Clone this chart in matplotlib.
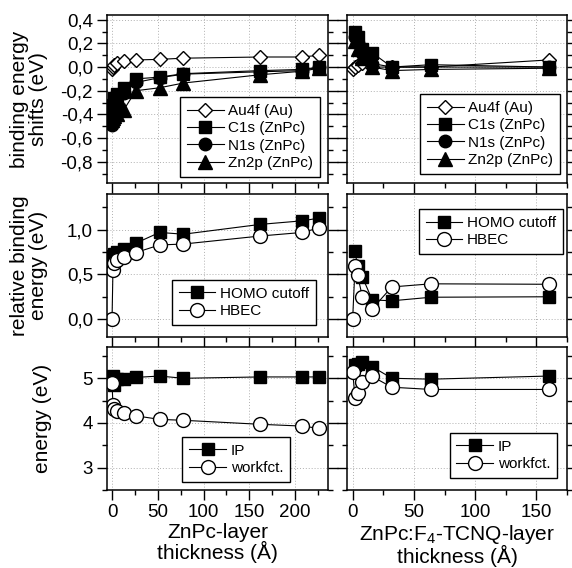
import matplotlib
matplotlib.use("Agg")
import matplotlib.pyplot as plt
from matplotlib.ticker import MultipleLocator, FuncFormatter

plt.rcParams['font.family'] = ['Liberation Sans', 'DejaVu Sans']
plt.rcParams['mathtext.default'] = 'regular'

# ---------------- data ----------------
# left column: ZnPc-layer thickness (Å)
x_left = [0, 1, 2, 5, 13, 26, 52, 78, 162, 208, 226]
au4f_left = [-0.02, 0.0, 0.02, 0.035, 0.055, 0.06, 0.065, 0.075, 0.085, 0.085, 0.10]
c1s_left = [-0.42, -0.32, -0.26, -0.23, -0.18, -0.10, -0.085, -0.056, -0.03, -0.02, 0.0]
n1s_left = [-0.49, -0.44, -0.36, -0.30, -0.22, -0.13, -0.09, -0.06, -0.04, -0.03, 0.0]
zn2p_left = [-0.45, -0.43, -0.41, -0.40, -0.36, -0.20, -0.175, -0.135, -0.065, -0.035, -0.01]

x_homo_left = [1, 2, 5, 13, 26, 52, 78, 162, 208, 226]
homo_left = [0.71, 0.73, 0.75, 0.78, 0.85, 0.97, 0.95, 1.06, 1.10, 1.13]
hbec_left = [0.0, 0.55, 0.63, 0.66, 0.69, 0.745, 0.83, 0.84, 0.93, 0.97, 1.02]

ip_left = [5.05, 4.85, 4.98, 4.98, 5.02, 5.05, 5.0, 5.03, 5.03, 5.03]
wf_left = [4.9, 4.4, 4.32, 4.26, 4.22, 4.16, 4.08, 4.06, 3.97, 3.93, 3.88]

# right column: ZnPc:F4-TCNQ-layer thickness (Å)
x_right = [0, 2, 4, 8, 16, 32, 64, 160]
x_right_mol = [2, 4, 8, 16, 32, 64, 160]
au4f_right = [-0.02, 0.0, 0.02, 0.035, 0.0, 0.0, 0.0, 0.06]
c1s_right = [0.30, 0.25, 0.15, 0.12, 0.0, 0.02, 0.0]
n1s_right = [0.25, 0.20, 0.12, 0.03, 0.0, 0.0, 0.0]
zn2p_right = [0.22, 0.15, 0.08, 0.0, -0.03, -0.02, -0.01]

homo_right = [0.76, 0.59, 0.47, 0.215, 0.205, 0.245, 0.25]
hbec_right = [0.0, 0.60, 0.49, 0.25, 0.115, 0.36, 0.395, 0.39]

ip_right = [5.3, 5.32, 5.37, 5.26, 5.0, 4.98, 5.05]
wf_right = [5.15, 4.56, 4.68, 4.92, 5.04, 4.8, 4.75, 4.75]

xticks_left = [0, 50, 100, 150, 200]
xticks_right = [0, 50, 100, 150]

# ---------------- figure ----------------
fig = plt.figure(figsize=(5.72, 5.68), dpi=100)

W, H = 572.0, 568.0
def rect(x0, x1, y0, y1):
    return [x0 / W, 1 - y1 / H, (x1 - x0) / W, (y1 - y0) / H]

cols = [(107, 328), (347, 567)]
rows = [(15, 183), (194, 337), (347, 490)]

axes = [[fig.add_axes(rect(cx[0], cx[1], ry[0], ry[1])) for cx in cols] for ry in rows]

comma = FuncFormatter(lambda v, p: ("%.1f" % v).replace('.', ',').replace('\u2212', '-'))
intfmt = FuncFormatter(lambda v, p: "%d" % round(v))

lw = 0.8
ms = 9
common = dict(color='black', lw=lw, markeredgecolor='black', markeredgewidth=1.0)

def style(ax, xlim, xt, ylim, ymaj, ymin, yfmt, showy, showx):
    ax.set_xlim(*xlim)
    ax.set_ylim(*ylim)
    ax.xaxis.set_major_locator(MultipleLocator(50))
    ax.xaxis.set_minor_locator(MultipleLocator(25))
    ax.yaxis.set_major_locator(MultipleLocator(ymaj))
    ax.yaxis.set_minor_locator(MultipleLocator(ymin))
    ax.yaxis.set_major_formatter(yfmt)
    ax.grid(True, which='major', color='#b0b0b0', ls=(0, (1, 2)), lw=0.7)
    ax.set_axisbelow(True)
    ax.tick_params(which='both', direction='out', top=False, right=True,
                   left=True, bottom=True, labelsize=13.5, width=1.0)
    ax.tick_params(which='major', length=7, pad=3)
    ax.tick_params(which='minor', length=3.5)
    ax.tick_params(labelleft=showy, labelbottom=showx)
    for s in ax.spines.values():
        s.set_linewidth(1.1)

xl_left = (-5.5, 236)
xl_right = (-4.6, 175)

# ---- top row ----
for ax, xs, xm, au, c1, n1, zn, show in [
        (axes[0][0], x_left, x_left, au4f_left, c1s_left, n1s_left, zn2p_left, True),
        (axes[0][1], x_right, x_right_mol, au4f_right, c1s_right, n1s_right, zn2p_right, False)]:
    ax.plot(xs, au, marker='D', ms=7.5, markerfacecolor='white', label='Au4f (Au)', **common)
    ax.plot(xm, c1, marker='s', ms=ms, markerfacecolor='black', label='C1s (ZnPc)', **common)
    ax.plot(xm, n1, marker='o', ms=ms, markerfacecolor='black', label='N1s (ZnPc)', **common)
    ax.plot(xm, zn, marker='^', ms=ms + 1, markerfacecolor='black', label='Zn2p (ZnPc)', **common)

style(axes[0][0], xl_left, xticks_left, (-0.98, 0.44), 0.2, 0.1, comma, True, False)
style(axes[0][1], xl_right, xticks_right, (-0.98, 0.44), 0.2, 0.1, comma, False, False)

# ---- middle row ----
for ax, xs, xm, hm, hb in [
        (axes[1][0], x_left, x_homo_left, homo_left, hbec_left),
        (axes[1][1], x_right, x_right_mol, homo_right, hbec_right)]:
    ax.plot(xm, hm, marker='s', ms=ms, markerfacecolor='black', label='HOMO cutoff', **common)
    ax.plot(xs, hb, marker='o', ms=ms + 1, markerfacecolor='white', label='HBEC', **common)

style(axes[1][0], xl_left, xticks_left, (-0.2, 1.4), 0.5, 0.25, comma, True, False)
style(axes[1][1], xl_right, xticks_right, (-0.2, 1.4), 0.5, 0.25, comma, False, False)

# ---- bottom row ----
for ax, xs, xm, ip, wf in [
        (axes[2][0], x_left, x_homo_left, ip_left, wf_left),
        (axes[2][1], x_right, x_right_mol, ip_right, wf_right)]:
    ax.plot(xm, ip, marker='s', ms=ms, markerfacecolor='black', label='IP', **common)
    ax.plot(xs, wf, marker='o', ms=ms + 1, markerfacecolor='white', label='workfct.', **common)

style(axes[2][0], xl_left, xticks_left, (2.5, 5.7), 1, 0.5, intfmt, True, True)
style(axes[2][1], xl_right, xticks_right, (2.5, 5.7), 1, 0.5, intfmt, False, True)

# ---- legends ----
leg_kw = dict(fontsize=11, frameon=True, fancybox=False, edgecolor='black',
              borderaxespad=0, handlelength=2.4, handletextpad=0.3,
              labelspacing=0.22, borderpad=0.45)
def legend(ax, loc, anchor):
    lg = ax.legend(loc=loc, bbox_to_anchor=anchor, **leg_kw)
    lg.get_frame().set_linewidth(1.0)
    lg.get_frame().set_alpha(1)

legend(axes[0][0], 'lower right', (0.964, 0.036))
legend(axes[0][1], 'lower right', (0.968, 0.054))
legend(axes[1][0], 'lower right', (0.946, 0.084))
legend(axes[1][1], 'upper right', (0.982, 0.895))
legend(axes[2][0], 'lower right', (0.828, 0.056))
legend(axes[2][1], 'lower right', (0.955, 0.084))

# ---- axis labels ----
ylabels = ["binding energy\nshifts (eV)", "relative binding\nenergy (eV)", "energy (eV)"]
ypos = [-0.355, -0.355, -0.29]
for i in range(3):
    ax = axes[i][0]
    ax.set_ylabel(ylabels[i], fontsize=15, linespacing=1.0)
    ax.yaxis.label.set_va('center')
    ax.yaxis.set_label_coords(ypos[i], 0.5)

axes[2][0].set_xlabel("ZnPc-layer\nthickness (\u00c5)", fontsize=15, linespacing=0.95, labelpad=1.5)
axes[2][1].set_xlabel("ZnPc:F$_4$-TCNQ-layer\nthickness (\u00c5)", fontsize=15, linespacing=0.95, labelpad=1.5)

fig.savefig("out.png", dpi=100)
